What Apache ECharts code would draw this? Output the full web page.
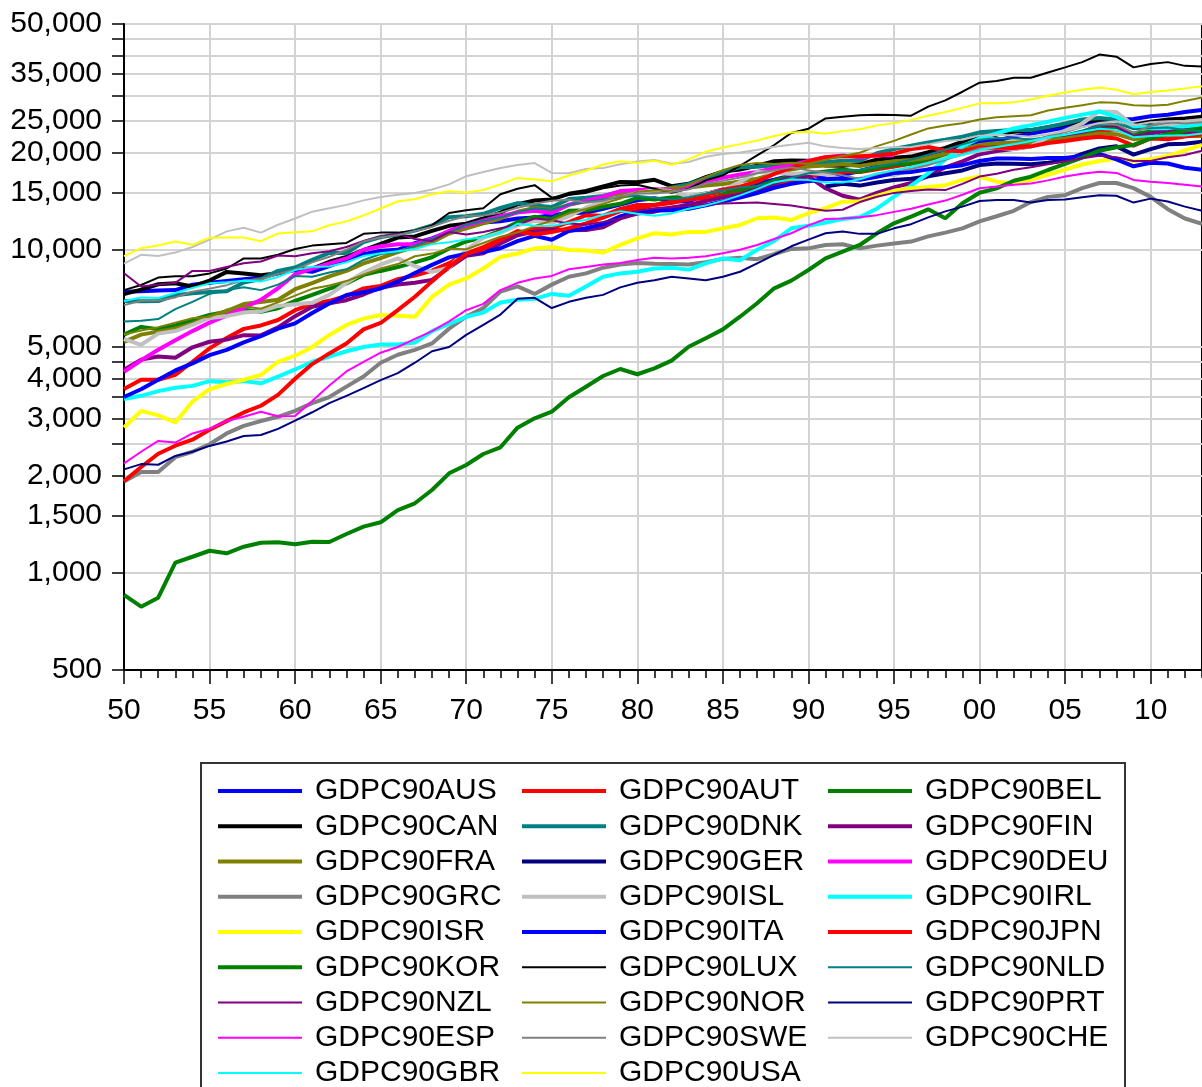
<!DOCTYPE html>
<html><head><meta charset="utf-8">
<script src="https://cdn.jsdelivr.net/npm/echarts@6/dist/echarts.min.js"></script>
<style>html,body{margin:0;padding:0;background:#fff}#c{width:1202px;height:1087px}</style>
</head><body><div id="c"></div>
<script>
// ---------- DATA (GDP per capita, 1990 GK$), years 1950..2013 ----------
const years = [];
for (let y = 1950; y <= 2013; y++) years.push(y);
const majorYears = [1950,1955,1960,1965,1970,1975,1980,1985,1990,1995,2000,2005,2010];
const yTickValues = [500,1000,1500,2000,2500,3000,3500,4000,4500,5000,10000,15000,20000,25000,30000,35000,40000,45000,50000];
const yLabelValues = [500,1000,1500,2000,3000,4000,5000,10000,15000,20000,25000,35000,50000];

const AUS = [7412,7440,7480,7500,7800,7900,8000,8100,8200,8460,
 8660,8550,8900,9300,9690,9930,10000,10480,10850,11390,
 12000,12150,12250,12500,12580,12800,13000,13020,13390,13800,
 14220,14440,14140,14100,14880,15380,15460,16050,16470,17000,
 17100,16780,17030,17540,18100,18720,19150,19780,20390,21050,
 21600,21800,22400,22900,23400,23900,24300,24900,25300,25400,
 25900,26200,26700,27100];
const AUT = [3706,3960,3960,4100,4500,4950,5330,5690,5830,6060,
 6500,6800,6950,7190,7590,7730,8110,8320,8620,9090,
 9750,10190,10790,11240,11650,11650,12170,12790,12740,13380,
 13760,13750,13950,14350,14420,14720,15040,15290,15750,16290,
 16900,17280,17460,17410,17750,18100,18450,18780,19340,19990,
 20690,20800,21000,21100,21500,21900,22600,23300,23600,22700,
 23100,23700,23700,23600];
const BEL = [5462,5770,5680,5830,6060,6280,6430,6520,6430,6590,
 6950,7250,7580,7870,8360,8600,8840,9140,9480,10090,
 10610,10930,11470,12170,12660,12460,13200,13250,13590,13880,
 14470,14320,14520,14590,14930,15080,15310,15650,16360,16940,
 17200,17460,17710,17440,17940,18320,18480,19100,19460,20050,
 21000,21100,21400,21600,22200,22500,23100,23800,23900,22900,
 23200,23400,23300,23300];
const CAN = [7291,7530,7820,7880,7700,8030,8540,8450,8340,8460,
 8750,8740,9180,9500,9970,10420,10910,11000,11440,11860,
 12050,12510,13030,13840,14200,14320,14900,15220,15720,16220,
 16180,16470,15740,16010,16770,17460,17720,18210,18800,18910,
 18870,18240,18200,18400,19000,19260,19430,20040,20670,21610,
 22490,22720,23180,23420,23940,24460,24850,25290,25270,24400,
 24900,25300,25500,25800];
const DNK = [6943,6930,6940,7230,7340,7400,7440,7920,8120,8600,
 8810,9310,9780,9770,10560,10950,11150,11460,11890,12620,
 12690,12920,13470,13950,13700,13570,14350,14500,14670,15140,
 15230,15150,15560,15960,16670,17390,18000,18070,18260,18370,
 18450,18650,18860,18860,19900,20500,21000,21500,21900,22400,
 23100,23300,23500,23500,24000,24600,25300,25600,25300,23900,
 24200,24400,24200,24200];
const FIN = [4253,4570,4670,4630,4990,5190,5270,5440,5430,5750,
 6230,6660,6830,6980,7270,7630,7810,7900,8070,8800,
 9580,9760,10460,11090,11390,11510,11500,11510,11740,12510,
 12950,13120,13500,13790,14140,14530,14830,15370,16040,16850,
 16870,15500,14700,14300,15000,15600,16100,16900,18000,18790,
 19770,20200,20500,20900,21700,22200,23100,24300,24300,22300,
 22900,23400,23000,22700];
const FRA = [5186,5460,5580,5700,5910,6200,6460,6790,6890,7000,
 7550,7890,8270,8600,9080,9420,9830,10210,10560,11230,
 11660,12080,12500,13110,13470,13280,13770,14160,14550,14960,
 15110,15210,15520,15600,15810,15970,16260,16580,17210,17730,
 18090,18230,18400,18180,18510,18810,18960,19280,19870,20400,
 21100,21400,21500,21500,21900,22100,22500,22900,22800,22000,
 22300,22600,22500,22500];
const GER = [null,null,null,null,null,null,null,null,null,null,
 null,null,null,null,null,null,null,null,null,null,
 null,null,null,null,null,null,null,null,null,null,
 null,null,null,null,null,null,null,null,null,null,
 null,15700,16000,15800,16150,16450,16600,16900,17250,17600,
 18300,18500,18450,18400,18600,18900,19800,20600,20900,19700,
 20500,21200,21300,21600];
const DEU = [4190,4550,4900,5250,5600,5950,6250,6600,7000,7600,
 8400,8740,9080,9400,10000,10250,10400,10400,10800,11450,
 11900,12300,12700,13050,13200,13000,13800,14200,14600,15200,
 15300,15400,15300,15600,16300,16700,17100,17400,17900,18300,
 18830,19350,19600,19350,19600,19600,null,null,null,null,
 null,null,null,null,null,null,null,null,null,null,
 null,null,null,null];
const GRC = [1915,2050,2050,2280,2370,2500,2700,2850,2950,3040,
 3170,3350,3500,3770,4050,4470,4730,4900,5130,5700,
 6210,6600,7420,7700,7300,7800,8250,8450,8800,9000,
 9100,9050,9030,9000,9150,9370,9450,9350,9700,10060,
 10100,10350,10400,10100,10300,10450,10600,11000,11300,11650,
 12250,12700,13200,14050,14580,14760,15520,16100,16100,15520,
 14580,13350,12500,12040];
const ISL = [5300,5080,5500,5600,5850,6150,6230,6390,6450,6700,
 6780,6850,7250,7900,8500,9000,9400,8900,8550,8800,
 10000,10900,11300,11900,12300,12100,12700,13500,14100,14500,
 15000,15300,15200,14600,14900,15300,16200,17400,17300,17200,
 17300,17100,16500,16600,17100,17000,17700,18400,19200,19800,
 20300,20700,20500,20900,22300,23400,24600,26800,26700,24300,
 23800,24200,24500,24900];
const IRL = [3453,3530,3650,3740,3790,3920,3890,3920,3860,4050,
 4260,4500,4670,4850,5000,5090,5090,5160,5600,5900,
 6200,6390,6870,7000,7050,7300,7200,7700,8250,8450,
 8550,8750,8800,8680,9080,9400,9280,10000,10650,11650,
 11870,12150,12450,12620,13400,14600,15800,17240,19050,20900,
 22140,22900,23750,24300,24900,25600,26200,26800,25800,24100,
 23800,23800,24100,24400];
const ISR = [2817,3170,3070,2920,3390,3700,3840,3960,4100,4500,
 4700,5000,5450,5850,6120,6280,6250,6200,7150,7800,
 8150,8750,9500,9740,10100,10200,9990,9950,9800,10350,
 10850,11250,11150,11360,11360,11650,11930,12520,12580,12370,
 12980,13450,14090,14140,14670,15220,15500,15650,15850,16450,
 16850,16250,16050,16450,17070,17700,18360,18830,19160,18800,
 19050,19500,20300,21100];
const ITA = [3502,3700,3960,4230,4450,4720,4900,5170,5400,5700,
 5916,6370,6820,7240,7390,7590,7970,8470,8980,9470,
 9720,9840,10110,10630,11040,10740,11430,11660,12030,12680,
 13150,13230,13250,13390,13720,14110,14510,14980,15560,16010,
 16310,16530,16630,16480,16820,17280,17420,17740,18000,18280,
 18840,19170,19180,19100,19220,19250,19500,19800,19050,18130,
 18600,18500,17950,17700];
const JPN = [1921,2126,2336,2474,2582,2771,2948,3136,3289,3554,
 3986,4426,4777,5129,5668,5934,6506,7152,7983,8874,
 9714,10040,10734,11434,11145,11344,11669,12064,12585,13163,
 13428,13754,14078,14307,14773,15331,15679,16251,17185,17943,
 18789,19355,19482,19478,19591,19849,20494,20800,20300,20200,
 20740,20700,20650,20900,21400,21700,22100,22400,22100,21000,
 22100,22000,22400,22800];
const KOR = [854,785,837,1075,1121,1170,1149,1204,1239,1243,
 1225,1248,1245,1318,1389,1433,1564,1641,1804,2032,
 2156,2332,2446,2813,3008,3152,3494,3768,4066,4275,
 4117,4295,4536,5010,5320,5670,6205,6828,7598,8026,
 8658,9408,9865,10347,11245,12077,12658,13344,12515,13931,
 15020,15497,16360,16836,17660,18433,19280,20266,20764,21108,
 22140,22827,23370,23777];
const LUX = [7500,7780,8200,8280,8280,8450,8750,9400,9400,9650,
 10050,10300,10400,10500,11200,11300,11300,11450,11900,13000,
 13250,13450,14850,15450,15850,14500,14800,15000,15500,15800,
 15900,15450,15000,15450,16400,17000,18200,19600,21100,23000,
 23700,25500,25800,26100,26200,26150,26000,27750,29000,30850,
 32900,33300,34100,34100,35400,36700,38100,40200,39600,36700,
 37600,38100,37100,36900];
const NLD = [5996,6030,6100,6550,6900,7300,7500,7650,7500,7800,
 8290,8250,8500,8700,9300,9700,9850,10300,10800,11300,
 11960,12300,12600,13080,13450,13300,13800,14050,14300,14550,
 14700,14500,14300,14550,14900,15250,15600,15750,16100,16700,
 17260,17450,17600,17700,18100,18500,19000,19700,20400,21200,
 21900,22200,22100,22000,22300,22700,23400,24200,24600,23600,
 23800,23900,23500,23300];
const NZL = [8456,7700,7800,7900,8600,8600,8850,9080,9200,9600,
 9550,9750,9900,10200,10650,11000,11200,10800,10650,11350,
 11150,11350,11650,11950,12500,12350,12050,11950,12200,12500,
 13200,13450,13600,13700,13800,13900,13950,14000,13850,13700,
 13450,13200,13300,14050,14600,15000,15200,15380,15300,16000,
 16850,17200,17700,18000,18400,18800,19200,19550,19350,18830,
 18830,19350,19650,20250];
const NOR = [5463,5620,5760,5950,6140,6200,6530,6680,6570,6870,
 7210,7570,7750,8000,8370,8750,9030,9550,9730,10080,
 10030,10490,10970,11320,11840,12300,12980,13370,13870,14410,
 15130,15260,15270,15900,16780,17630,18300,18570,18440,18580,
 18470,18980,19520,19970,20930,21740,22740,23750,24250,24630,
 25300,25700,25900,26100,27000,27500,28000,28600,28500,28000,
 27900,28100,28900,29600];
const PRT = [2090,2170,2160,2300,2370,2470,2550,2650,2670,2790,
 2960,3140,3350,3530,3730,3950,4150,4470,4850,5000,
 5450,5850,6300,7050,7100,6600,6900,7100,7250,7650,
 7900,8050,8250,8150,8050,8250,8550,9080,9640,10250,
 10750,11250,11400,11200,11200,11650,12000,12600,13150,13600,
 14150,14250,14250,14000,14250,14300,14550,14750,14700,14000,
 14400,14100,13600,13200];
const ESP = [2180,2370,2560,2530,2700,2790,2950,3040,3150,3050,
 3060,3400,3800,4200,4500,4800,5000,5300,5600,6000,
 6500,6800,7500,7900,8150,8300,8700,8850,9000,9100,
 9300,9450,9400,9450,9550,9750,10000,10350,10800,11250,
 11900,12450,12500,12600,12800,13100,13400,13800,14200,14800,
 15500,15700,15900,16050,16400,16850,17200,17450,17300,16450,
 16250,16100,15900,15700];
const SWE = [6739,6950,6970,7120,7420,7580,7770,8040,8090,8410,
 8690,9140,9510,10000,10610,10940,11110,11430,11790,12290,
 12720,12760,13030,13490,13880,14180,14280,13980,14180,14680,
 14940,14930,15100,15390,16010,16340,16740,17250,17620,18000,
 17610,17350,17010,16560,17110,17600,17800,18300,19000,19800,
 20600,20800,21300,21700,22500,23100,24000,24600,24400,23000,
 24200,24800,24600,24800];
const CHE = [9064,9650,9570,9800,10200,10750,11400,11700,11300,11950,
 12500,13120,13450,13770,14220,14560,14800,14990,15370,15940,
 16900,17400,17900,18300,18550,17300,17250,17800,17900,18400,
 18750,18950,18450,18700,19400,19800,20000,20350,20850,21150,
 21450,20900,20650,20500,20650,20750,20800,21200,21700,21900,
 22600,22700,22600,22400,22800,23300,24000,24700,25000,24300,
 24800,25000,25100,25400];
const GBR = [6939,7120,7090,7350,7620,7870,7930,8020,7970,8240,
 8650,8860,8870,9150,9570,9750,9890,10050,10410,10550,
 10770,10940,11290,12030,11860,11850,12120,12380,12830,13170,
 12930,12750,12960,13400,13720,14170,14740,15410,16190,16490,
 16430,16160,16150,16520,17220,17640,18060,18590,19120,19680,
 20350,20800,21200,21700,22300,22700,23200,23700,23500,22300,
 22500,22600,22600,22900];
const USA = [9561,10116,10316,10613,10359,10897,10914,10920,10631,11230,
 11328,11402,11905,12242,12773,13419,14134,14330,14863,15179,
 15030,15304,15944,16689,16491,16284,16975,17567,18373,18789,
 18577,18856,18325,19047,20123,20717,21236,21788,22499,23059,
 23201,22849,23298,23616,24273,24664,25242,26015,26687,27500,
 28400,28400,28600,29200,30000,30700,31300,31800,31300,30300,
 30800,31100,31600,32100];

// ---------- STYLE ----------
const C = {blue:'#0000FF', red:'#FF0000', green:'#008000', black:'#000000', teal:'#008080',
  purple:'#800080', olive:'#808000', navy:'#000080', magenta:'#FF00FF', gray:'#808080',
  silver:'#C0C0C0', cyan:'#00FFFF', yellow:'#FFFF00'};
const THICK = 4, THIN = 2;
const seriesDefs = [
 ['GDPC90AUS', AUS, C.blue, THICK], ['GDPC90AUT', AUT, C.red, THICK], ['GDPC90BEL', BEL, C.green, THICK],
 ['GDPC90CAN', CAN, C.black, THICK], ['GDPC90DNK', DNK, C.teal, THICK], ['GDPC90FIN', FIN, C.purple, THICK],
 ['GDPC90FRA', FRA, C.olive, THICK], ['GDPC90GER', GER, C.navy, THICK], ['GDPC90DEU', DEU, C.magenta, THICK],
 ['GDPC90GRC', GRC, C.gray, THICK], ['GDPC90ISL', ISL, C.silver, THICK], ['GDPC90IRL', IRL, C.cyan, THICK],
 ['GDPC90ISR', ISR, C.yellow, THICK], ['GDPC90ITA', ITA, C.blue, THICK], ['GDPC90JPN', JPN, C.red, THICK],
 ['GDPC90KOR', KOR, C.green, THICK], ['GDPC90LUX', LUX, C.black, THIN], ['GDPC90NLD', NLD, C.teal, THIN],
 ['GDPC90NZL', NZL, C.purple, THIN], ['GDPC90NOR', NOR, C.olive, THIN], ['GDPC90PRT', PRT, C.navy, THIN],
 ['GDPC90ESP', ESP, C.magenta, THIN], ['GDPC90SWE', SWE, C.gray, THIN], ['GDPC90CHE', CHE, C.silver, THIN],
 ['GDPC90GBR', GBR, C.cyan, THIN], ['GDPC90USA', USA, C.yellow, THIN]
];
const legendCols = [
 ['GDPC90AUS','GDPC90CAN','GDPC90FRA','GDPC90GRC','GDPC90ISR','GDPC90KOR','GDPC90NZL','GDPC90ESP','GDPC90GBR'],
 ['GDPC90AUT','GDPC90DNK','GDPC90GER','GDPC90ISL','GDPC90ITA','GDPC90LUX','GDPC90NOR','GDPC90SWE','GDPC90USA'],
 ['GDPC90BEL','GDPC90FIN','GDPC90DEU','GDPC90IRL','GDPC90JPN','GDPC90NLD','GDPC90PRT','GDPC90CHE']
];
const legendLeft = [218, 522, 828];
const FONT = 'Liberation Sans, Arial, sans-serif';
const GRIDC = '#D3D3D3';
const widthOf = {};
const colorOf = {};
seriesDefs.forEach(d => { widthOf[d[0]] = d[3]; colorOf[d[0]] = d[2]; });
const iconFor = w => 'path://M0 0H84V' + w + 'H0Z';

const chart = echarts.init(document.getElementById('c'), null, {renderer: 'canvas'});
chart.setOption({
  animation: false,
  backgroundColor: '#fff',
  textStyle: {fontFamily: FONT},
  grid: {left: 124, top: 24, width: 1079, height: 646, show: true, borderColor: '#000', borderWidth: 2, backgroundColor: 'transparent'},
  xAxis: [{
    type: 'value', min: 1950, max: 2013, position: 'bottom',
    axisLine: {show: true, onZero: false, lineStyle: {color: '#000', width: 2}},
    axisTick: {show: true, customValues: majorYears, length: 14, lineStyle: {color: '#000', width: 1.5}},
    axisLabel: {customValues: majorYears, formatter: v => String(Math.round(v) % 100).padStart(2, '0'),
      fontSize: 30, color: '#000', fontFamily: FONT, margin: 26},
    splitLine: {show: true, lineStyle: {color: GRIDC, width: 2}}
  }, {
    type: 'value', min: 1950, max: 2013, position: 'bottom',
    axisLine: {show: false, onZero: false},
    axisTick: {show: true, customValues: years, length: 8, lineStyle: {color: '#000', width: 1.5}},
    axisLabel: {show: false},
    splitLine: {show: false}
  }],
  yAxis: {
    type: 'log', logBase: 10, min: 500, max: 50000,
    axisLine: {show: true, onZero: false, lineStyle: {color: '#000', width: 2}},
    axisTick: {show: true, customValues: yTickValues, length: 12, lineStyle: {color: '#000', width: 1.5}},
    axisLabel: {customValues: yLabelValues, formatter: v => Math.round(v).toLocaleString('en-US'),
      fontSize: 30, color: '#000', fontFamily: FONT, margin: 22},
    splitLine: {show: true, lineStyle: {color: GRIDC, width: 2}}
  },
  legend: legendCols.map((d, i) => ({
    data: d.map(n => ({name: n, icon: iconFor(widthOf[n]), itemStyle: {color: colorOf[n], borderWidth: 0}})),
    orient: 'vertical', left: legendLeft[i], top: 776, height: 360, padding: 0,
    itemWidth: 84, itemHeight: 30, itemGap: 5.25, selectedMode: false, symbolKeepAspect: true,
    textStyle: {fontSize: 30, fontFamily: FONT, color: '#000', lineHeight: 30, padding: [0, 0, 0, 8]}
  })),
  graphic: [{type: 'rect', shape: {x: 201, y: 763, width: 924, height: 400},
    style: {fill: null, stroke: '#333', lineWidth: 2}, silent: true}],
  series: seriesDefs.map(([name, vals, color, w]) => ({
    name, type: 'line', xAxisIndex: 0, yAxisIndex: 0,
    data: years.map((y, i) => [y, vals[i]]),
    symbol: 'none', showSymbol: false, connectNulls: false,
    lineStyle: {color, width: w}, itemStyle: {color},
    emphasis: {disabled: true}, silent: true
  }))
});
</script></body></html>
